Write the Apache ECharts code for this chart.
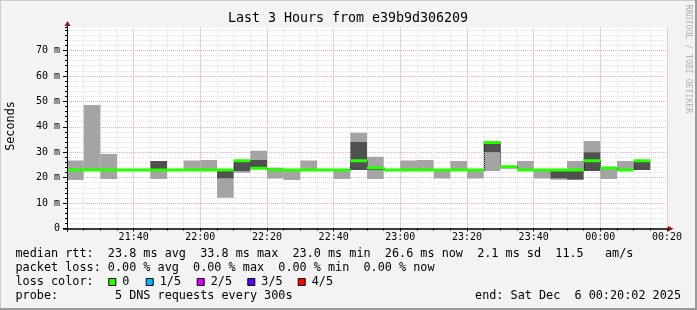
<!DOCTYPE html>
<html><head><meta charset="utf-8">
<script src="https://cdn.jsdelivr.net/npm/echarts@6/dist/echarts.min.js"></script>
<style>html,body{margin:0;padding:0;background:#f3f3f3}#c{width:697px;height:310px}</style>
</head><body><div id="c"></div>
<script>
// ---- data (minutes after 21:20, 5-minute probe steps) ----
const stepMin = 5;
const binStart = [0,5,10,15,20,25,30,35,40,45,50,55,60,65,70,75,80,85,90,95,100,105,110,115,120,125,130,135,140,145,150,155,160,165,170,175];
// outer smoke (light) ms
const lightLo = [19.1,23.0,19.5,null,null,19.5,null,23.0,23.0,12.1,21.9,26.9,19.7,19.1,23.0,null,19.5,34.0,19.5,null,23.0,23.0,19.7,23.0,19.7,22.6,23.5,23.0,19.7,19.2,23.0,30.0,19.5,23.0,null,null];
const lightHi = [26.7,48.6,29.3,null,null,23.0,null,26.7,26.9,19.7,22.6,30.6,23.9,23.0,26.7,null,23.0,37.7,28.2,null,26.7,26.9,23.0,26.5,23.0,30.0,24.3,26.5,23.0,19.7,26.5,34.4,23.8,26.5,null,null];
// inner smoke (dark) ms
const darkLo = [null,null,null,null,null,23.0,null,null,null,19.7,22.6,23.7,null,null,null,null,null,23.0,23.0,null,null,null,null,null,null,30.0,null,null,null,19.7,19.2,22.6,null,null,23.0,null];
const darkHi = [null,null,null,null,null,26.5,null,null,null,23.0,26.6,26.9,null,null,null,null,null,34.0,23.9,null,null,null,null,null,null,33.8,null,null,null,23.0,23.0,30.0,null,null,26.5,null];
// median rtt ms
const median = [23.0,23.0,23.0,23.0,23.0,23.0,23.0,23.0,23.0,23.0,26.6,23.7,23.1,23.0,23.0,23.0,23.0,26.6,23.9,23.0,23.0,23.0,23.0,23.0,23.0,33.8,24.3,23.0,23.0,23.0,23.0,26.6,23.8,23.0,26.6,null];
// axis ticks
const xTickMinutes = [20,40,60,80,100,120,140,160,180];
const xTickLabels = ['21:40','22:00','22:20','22:40','23:00','23:20','23:40','00:00','00:20'];
const yTickValues = [0,10,20,30,40,50,60,70];
const yTickLabels = ['0','10 m','20 m','30 m','40 m','50 m','60 m','70 m'];
const yMax = 79;
// texts
const titleText = 'Last 3 Hours from e39b9d306209';
const legendLines = [
  'median rtt:  23.8 ms avg  33.8 ms max  23.0 ms min  26.6 ms now  2.1 ms sd  11.5   am/s',
  'packet loss: 0.00 % avg  0.00 % max  0.00 % min  0.00 % now',
  'loss color:',
  'probe:        5 DNS requests every 300s'
];
const lossLabels = ['0','1/5','2/5','3/5','4/5'];
const lossColors = ['#26ff00','#00b8ff','#dd00ff','#5e00ff','#ff0000'];
const endText = 'end: Sat Dec  6 00:20:02 2025';

// ---- build ----
const MONO = 'DejaVu Sans Mono';
const G = {left:67, top:27.6, width:600, height:200.9};
const lightData = [], darkData = [], medData = [], connData = [];
for (let i = 0; i < binStart.length; i++) {
  const s = binStart[i], e = binStart[i] + stepMin;
  if (lightLo[i] != null) lightData.push([s, e, lightLo[i], lightHi[i]]);
  if (darkLo[i] != null) darkData.push([s, e, darkLo[i], darkHi[i]]);
  if (median[i] != null) medData.push([s, e, median[i]]);
  if (i > 0 && median[i] != null && median[i-1] != null && median[i] !== median[i-1])
    connData.push([s, median[i-1], median[i]]);
}
function boxRender(color) {
  return function (params, api) {
    const a = api.coord([api.value(0), api.value(3)]);
    const b = api.coord([api.value(1), api.value(2)]);
    return {type:'rect', shape:{x:a[0], y:a[1], width:b[0]-a[0], height:b[1]-a[1]}, style:{fill:color}};
  };
}
const dot = [1,1];
const chart = echarts.init(document.getElementById('c'), null, {renderer:'canvas', width:697, height:310});
const graphic = [];
// frame
graphic.push({type:'rect', shape:{x:0,y:0,width:697,height:310}, style:{fill:'#f3f3f3'}, z:-10, silent:true});
graphic.push({type:'line', shape:{x1:0,y1:0.5,x2:697,y2:0.5}, style:{stroke:'#cbcbcb',lineWidth:1}, z:50});
graphic.push({type:'line', shape:{x1:0.5,y1:0,x2:0.5,y2:310}, style:{stroke:'#cbcbcb',lineWidth:1}, z:50});
graphic.push({type:'line', shape:{x1:0,y1:309,x2:697,y2:309}, style:{stroke:'#9b9b9b',lineWidth:2}, z:50});
graphic.push({type:'line', shape:{x1:696,y1:0,x2:696,y2:310}, style:{stroke:'#9b9b9b',lineWidth:2}, z:50});
// axes lines + arrows
const y0 = G.top + G.height;
graphic.push({type:'line', shape:{x1:67.5,y1:y0+3,x2:67.5,y2:24}, style:{stroke:'#000',lineWidth:1}, z:60});
graphic.push({type:'line', shape:{x1:63,y1:y0+0.5,x2:670,y2:y0+0.5}, style:{stroke:'#000',lineWidth:1.5}, z:60});
graphic.push({type:'polygon', shape:{points:[[64.5,26],[70.5,26],[67.5,21]]}, style:{fill:'#8b1a1a'}, z:61});
graphic.push({type:'polygon', shape:{points:[[668,226],[668,231.5],[673.5,228.8]]}, style:{fill:'#8b1a1a'}, z:61});
// title
graphic.push({type:'text', x:348, y:19, style:{text:titleText, fontFamily:MONO, fontSize:13.3, fill:'#000', textAlign:'center', textVerticalAlign:'middle'}, z:60});
// y name
graphic.push({type:'text', x:10.5, y:126, rotation:Math.PI/2, style:{text:'Seconds', fontFamily:MONO, fontSize:11.8, fill:'#000', textAlign:'center', textVerticalAlign:'middle'}, z:60});
// side credit
graphic.push({type:'text', x:688, y:59, rotation:-Math.PI/2, style:{text:'RRDTOOL / TOBI OETIKER', fontFamily:MONO, fontSize:8.2, fill:'#b0b0b0', textAlign:'center', textVerticalAlign:'middle'}, z:60});
// legend lines
const lineY = [254.3, 268.2, 282.2, 296.1];
legendLines.forEach((t, k) => {
  graphic.push({type:'text', x:15.5, y:lineY[k], style:{text:t, fontFamily:MONO, fontSize:11.8, fill:'#000', textAlign:'left', textVerticalAlign:'middle'}, z:60});
});
const sqX = [108.3, 145.7, 196.7, 247.3, 297.7];
lossLabels.forEach((t, k) => {
  graphic.push({type:'rect', shape:{x:sqX[k]+0.5, y:278.5, width:7, height:7}, style:{fill:lossColors[k], stroke:'#000', lineWidth:1}, z:60});
  graphic.push({type:'text', x:sqX[k]+14, y:lineY[2], style:{text:t, fontFamily:MONO, fontSize:11.8, fill:'#000', textAlign:'left', textVerticalAlign:'middle'}, z:60});
});
graphic.push({type:'text', x:681, y:lineY[3], style:{text:endText, fontFamily:MONO, fontSize:11.8, fill:'#000', textAlign:'right', textVerticalAlign:'middle'}, z:60});

const option = {
  animation:false,
  backgroundColor:'#f3f3f3',
  grid:{left:G.left, top:G.top, width:G.width, height:G.height, show:true, backgroundColor:'#ffffff', borderWidth:0, containLabel:false, outerBoundsMode:'none'},
  xAxis:[
    {type:'value', min:0, max:180, interval:5, position:'bottom',
     axisLine:{show:false}, axisLabel:{show:false},
     axisTick:{show:true, length:2, lineStyle:{color:'#000'}},
     splitLine:{show:true, lineStyle:{color:'#e0e0e0', type:dot, width:1}}},
    {type:'value', min:0, max:180, interval:20, position:'bottom',
     axisLine:{show:false},
     axisTick:{show:true, length:3, lineStyle:{color:'#000'}},
     axisLabel:{show:true, margin:4, fontFamily:MONO, fontSize:10, color:'#000',
       formatter:function(v){const k = xTickMinutes.indexOf(v); return k>=0 ? xTickLabels[k] : '';}},
     splitLine:{show:true, lineStyle:{color:'#f4a8a8', type:dot, width:1}}}
  ],
  yAxis:[
    {type:'value', min:0, max:yMax, interval:2, position:'left',
     axisLine:{show:false}, axisLabel:{show:false},
     axisTick:{show:true, length:2, lineStyle:{color:'#000'}},
     splitLine:{show:true, showMaxLine:false, lineStyle:{color:'#e0e0e0', type:dot, width:1}}},
    {type:'value', min:0, max:yMax, interval:10, position:'left',
     axisLine:{show:false},
     axisTick:{show:true, length:4, lineStyle:{color:'#000'}},
     axisLabel:{show:true, margin:7, fontFamily:MONO, fontSize:10, color:'#000', showMaxLabel:false,
       formatter:function(v){const k = yTickValues.indexOf(v); return k>=0 ? yTickLabels[k] : '';}},
     splitLine:{show:true, showMaxLine:false, lineStyle:{color:'#f4a8a8', type:dot, width:1}}}
  ],
  series:[
    {type:'custom', name:'smoke-outer', xAxisIndex:0, yAxisIndex:0, clip:true, data:lightData,
     encode:{x:[0,1], y:[2,3]}, renderItem:boxRender('#a4a4a4')},
    {type:'custom', name:'smoke-inner', xAxisIndex:0, yAxisIndex:0, clip:true, data:darkData,
     encode:{x:[0,1], y:[2,3]}, renderItem:boxRender('#505050')},
    {type:'custom', name:'median-step', xAxisIndex:0, yAxisIndex:0, clip:true, data:connData,
     encode:{x:0, y:[1,2]},
     renderItem:function(params, api){
       const a = api.coord([api.value(0), api.value(1)]);
       const b = api.coord([api.value(0), api.value(2)]);
       const x = Math.round(a[0]) + 0.5;
       return {type:'line', shape:{x1:x, y1:a[1], x2:x, y2:b[1]}, style:{stroke:'#1a1a1a', lineWidth:1, lineDash:[1,1]}};
     }},
    {type:'custom', name:'median', xAxisIndex:0, yAxisIndex:0, clip:true, data:medData,
     encode:{x:[0,1], y:2},
     renderItem:function(params, api){
       const a = api.coord([api.value(0), api.value(2)]);
       const b = api.coord([api.value(1), api.value(2)]);
       return {type:'rect', shape:{x:a[0], y:a[1]-1.5, width:b[0]-a[0], height:3}, style:{fill:'#26ff00'}};
     }}
  ],
  graphic:graphic
};
chart.setOption(option);
</script>
</body></html>
